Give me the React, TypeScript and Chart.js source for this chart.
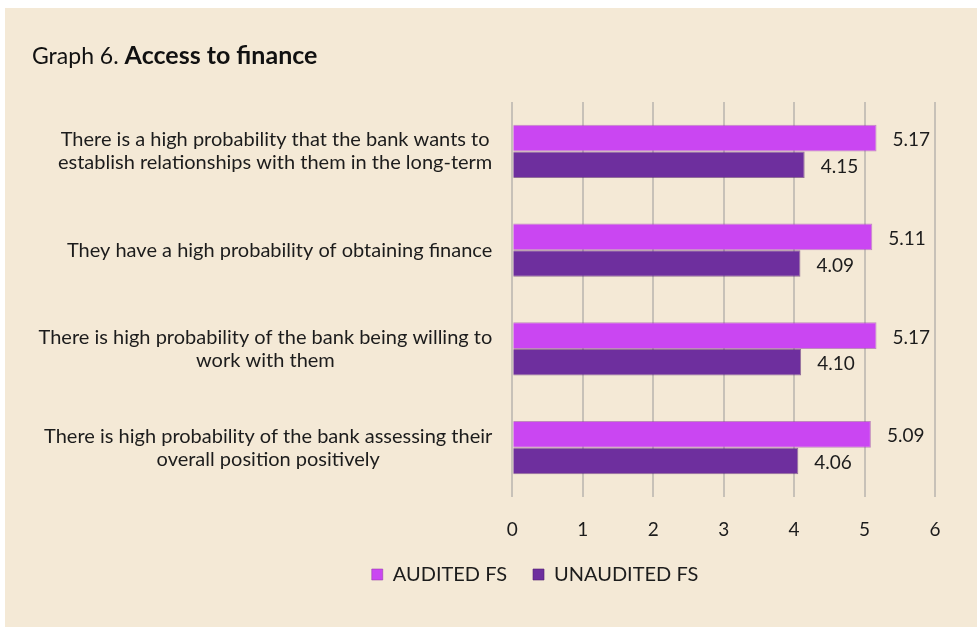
import React, { useEffect, useRef } from "react";
import { Chart, registerables } from "chart.js";

Chart.register(...registerables);

const categories: string[][] = [
  ["There is a high probability that the bank wants to", "establish relationships with them in the long-term"],
  ["They have a high probability of obtaining finance"],
  ["There is high probability of the bank being willing to", "work with them"],
  ["There is high probability of the bank assessing their", "overall position positively"],
];
const auditedValues = [5.17, 5.11, 5.17, 5.09];
const unauditedValues = [4.15, 4.09, 4.1, 4.06];
const seriesNames = ["AUDITED FS", "UNAUDITED FS"];
const titlePrefix = "Graph 6.";
const titleMain = "Access to finance";

const FONT = "Lato, 'Open Sans', sans-serif";
const TEXT = "#1c1c1c";
const BG = "#F4E9D6";

const W = 972;
const H = 619;
const PAD_L = 130;
const PAD_R = 42;
const PAD_T = 94;
const PAD_B = 32.5;
const PLOT_LEFT = 507.3;
const LEGEND_PAD = 26;

const customText = {
  id: "customText",
  afterDraw(chart: any) {
    const ctx = chart.ctx;
    const area = chart.chartArea;
    ctx.save();
    // title
    ctx.fillStyle = "#111";
    ctx.textBaseline = "alphabetic";
    ctx.textAlign = "left";
    ctx.font = `400 23px ${FONT}`;
    ctx.fillText(titlePrefix, 27, 56);
    const w1 = ctx.measureText(titlePrefix).width;
    ctx.font = `700 25px ${FONT}`;
    ctx.fillText(titleMain, 27 + w1 + 6, 56);

    // category labels
    const ys = chart.scales.y;
    ctx.font = `400 20px ${FONT}`;
    ctx.fillStyle = TEXT;
    ctx.textBaseline = "middle";
    ctx.textAlign = "center";
    const right = area.left - 20;
    const labels = chart.data.labels as string[][];
    labels.forEach((lines, i) => {
      const cy = ys.getPixelForTick(i);
      const widest = Math.max(...lines.map((l) => ctx.measureText(l).width));
      const cx = right - widest / 2;
      const lh = 23;
      lines.forEach((l, j) => {
        ctx.fillText(l, cx, cy + (j - (lines.length - 1) / 2) * lh);
      });
    });

    // value labels
    ctx.textAlign = "left";
    ctx.font = `400 19px ${FONT}`;
    chart.data.datasets.forEach((ds: any, di: number) => {
      const meta = chart.getDatasetMeta(di);
      meta.data.forEach((el: any, i: number) => {
        const v = ds.data[i] as number;
        ctx.fillText(v.toFixed(2), el.x + 16, el.y + 2);
      });
    });
    ctx.restore();
  },
};

export default function App() {
  const ref = useRef<HTMLCanvasElement | null>(null);
  useEffect(() => {
    if (!ref.current) return;
    const chart = new Chart(ref.current, {
      type: "bar",
      data: {
        labels: categories as any,
        datasets: [
          {
            label: seriesNames[0],
            data: auditedValues,
            backgroundColor: "#CA46F2",
            borderColor: "rgba(150,60,170,0.55)",
            borderWidth: 1,
            categoryPercentage: 0.537,
            barPercentage: 1,
          },
          {
            label: seriesNames[1],
            data: unauditedValues,
            backgroundColor: "#6E2F9E",
            borderColor: "rgba(80,30,110,0.6)",
            borderWidth: 1,
            categoryPercentage: 0.537,
            barPercentage: 1,
          },
        ],
      },
      options: {
        indexAxis: "y",
        responsive: false,
        animation: false,
        layout: { padding: { left: PAD_L, right: PAD_R, top: PAD_T, bottom: PAD_B } },
        scales: {
          x: {
            min: 0,
            max: 6,
            ticks: {
              stepSize: 1,
              padding: 21,
              color: TEXT,
              font: { family: FONT, size: 19 },
            },
            grid: { color: "#C7C1B8", lineWidth: 2, drawTicks: false },
            border: { display: false },
            afterFit: (s: any) => {
              s.height = 57.5 - (LEGEND_PAD - 10);
            },
          },
          y: {
            ticks: { display: false },
            grid: { display: false },
            border: { display: false },
            afterFit: (s: any) => {
              s.width = PLOT_LEFT - PAD_L;
            },
          },
        },
        plugins: {
          legend: {
            position: "bottom",
            labels: {
              boxWidth: 11,
              boxHeight: 11,
              padding: LEGEND_PAD,
              color: TEXT,
              font: { family: FONT, size: 20 },
            },
          },
          tooltip: { enabled: false },
        },
      },
      plugins: [customText],
    });
    return () => chart.destroy();
  }, []);
  return (
    <div style={{ position: "absolute", left: 5, top: 8, width: W, height: H, background: BG }}>
      <canvas ref={ref} width={W} height={H} style={{ display: "block" }} />
    </div>
  );
}
